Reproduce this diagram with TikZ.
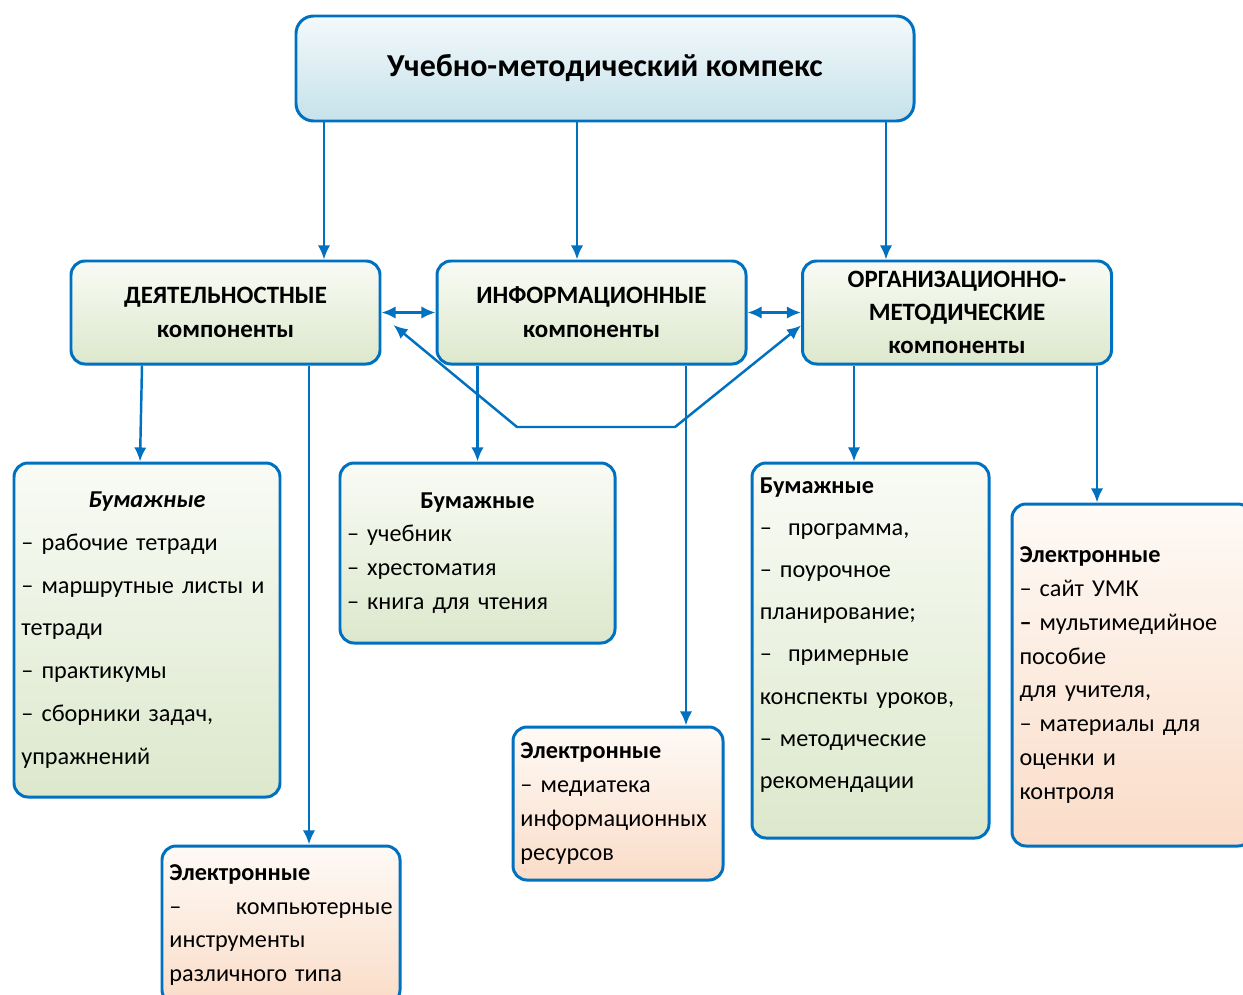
\documentclass[tikz,border=0pt]{standalone}
\usepackage{fontspec}
\setmainfont{Carlito}
\usetikzlibrary{positioning,calc,arrows.meta,shapes}
\definecolor{umkBlue}{RGB}{0,112,192}
\definecolor{titleTop}{RGB}{243,249,251}
\definecolor{titleBot}{RGB}{198,226,235}
\definecolor{greenTop}{RGB}{249,251,245}
\definecolor{greenBot}{RGB}{220,232,204}
\definecolor{peachTop}{RGB}{254,250,246}
\definecolor{peachBot}{RGB}{250,220,200}
\newcommand{\pxu}{0.02cm}

\begin{document}
\begin{tikzpicture}[x=0.02cm, y=-0.02cm,
    every node/.style={font=\fontsize{13.8}{19.3}\selectfont},
    link/.style={umkBlue, line width=1.4pt, -{Latex[length=8pt,width=7pt]}},
    twoway/.style={umkBlue, line width=1.4pt, {Latex[length=8pt,width=7pt]}-{Latex[length=8pt,width=7pt]}},
    box/.style={draw=umkBlue, line width=1.7pt, rounded corners=8pt, inner xsep=3.8pt, inner ysep=0pt},
    title/.style={box, rounded corners=10pt, top color=titleTop, bottom color=titleBot, font=\bfseries\fontsize{18.2}{22}\selectfont},
    head/.style={box, top color=greenTop, bottom color=greenBot, align=center, font=\bfseries\fontsize{14.2}{19.3}\selectfont, minimum width=309*\pxu, minimum height=103*\pxu},
    paper/.style={box, top color=greenTop, bottom color=greenBot, align=left},
    elec/.style={box, top color=peachTop, bottom color=peachBot, align=left},
    ]
    \fill[white] (0,0) rectangle (1243,994);
    \useasboundingbox (0,0) rectangle (1243,994);
    \clip (0,0) rectangle (1243,994);

    % top
    \node[title, minimum width=618*\pxu, minimum height=105*\pxu] (umk) at (605,68.5) {Учебно-методический компекс};

    % components
    \node[head] (act) at (225.5,312.5) {ДЕЯТЕЛЬНОСТНЫЕ\\компоненты};
    \node[head] (inf) at (591.5,312.5) {ИНФОРМАЦИОННЫЕ\\компоненты};
    \node[head, font=\bfseries\fontsize{14.2}{19}\selectfont] (org) at (957,312.5) {ОРГАНИЗАЦИОННО-\\МЕТОДИЧЕСКИЕ\\компоненты};

    % lower boxes
    \node[paper, text width=143pt, minimum width=266*\pxu, minimum height=334*\pxu, font=\fontsize{13.8}{24.4}\selectfont] (actPaper) at (147,630)
        {\makebox[\hsize][c]{\textbf{\textit{Бумажные}}}\\– рабочие тетради\\– маршрутные листы и\\тетради\\– практикумы\\– сборники задач,\\упражнений};
    \node[elec, text width=127pt, minimum width=238*\pxu, minimum height=158*\pxu] (actEl) at (281,925)
        {\textbf{Электронные}\\\makebox[\hsize][s]{–\hfill компьютерные}\\инструменты\\различного типа};
    \node[paper, text width=148.5pt, minimum width=275*\pxu, minimum height=180*\pxu] (infPaper) at (477.5,553)
        {\makebox[\hsize][c]{\textbf{Бумажные}}\\– учебник\\– хрестоматия\\– книга для чтения};
    \node[elec, text width=111pt, minimum width=210*\pxu, minimum height=153*\pxu] (infEl) at (618,803.5)
        {\textbf{Электронные}\\– медиатека\\информационных\\ресурсов};
    \node[paper, text width=126pt, minimum width=237*\pxu, minimum height=375*\pxu, font=\fontsize{13.8}{24}\selectfont] (orgPaper) at (870.5,650.5)
        {\textbf{Бумажные}\\–\ \ программа,\\– поурочное\\планирование;\\–\ \ примерные\\конспекты уроков,\\– методические\\рекомендации\\[-4pt]\mbox{}};
    \node[elec, text width=128pt, minimum width=240*\pxu, minimum height=342*\pxu] (orgEl) at (1132,675)
        {\textbf{Электронные}\\– сайт УМК\\\textbf{–} мультимедийное\\пособие\\для учителя,\\– материалы для\\оценки и\\контроля};

    % arrows from the top
    \coordinate (toAct) at ($(act.north)+(98.5,0)$);
    \coordinate (toInf) at ($(inf.north)+(-14.5,0)$);
    \coordinate (toOrg) at ($(org.north)+(-71,0)$);
    \draw[link] (umk.south -| toAct) -- (toAct);
    \draw[link] (umk.south -| toInf) -- (toInf);
    \draw[link] (umk.south -| toOrg) -- (toOrg);

    % links between components
    \draw[twoway] (act.east) -- (inf.west);
    \draw[twoway] (inf.east) -- (org.west);
    \coordinate (bendL) at (517,427);
    \coordinate (bendR) at (675,427);
    \draw[twoway] ($(act.east)+(12,12.5)$) -- (bendL) -- (bendR) -- ($(org.west)+(0,13)$);

    % arrows down
    \draw[link] ($(act.south)+(-83.5,0)$) -- ($(actPaper.north)+(-7,0)$);
    \coordinate (toActEl) at ($(actEl.north)+(28,0)$);
    \draw[link] (act.south -| toActEl) -- (toActEl);
    \draw[link] (inf.south -| infPaper.north) -- (infPaper.north);
    \coordinate (toInfEl) at ($(infEl.north)+(68,0)$);
    \draw[link] (inf.south -| toInfEl) -- (toInfEl);
    \coordinate (toOrgPaper) at ($(orgPaper.north)+(-16.5,0)$);
    \draw[link] (org.south -| toOrgPaper) -- (toOrgPaper);
    \coordinate (toOrgEl) at ($(orgEl.north)+(-35,0)$);
    \draw[link] (org.south -| toOrgEl) -- (toOrgEl);
\end{tikzpicture}
\end{document}
